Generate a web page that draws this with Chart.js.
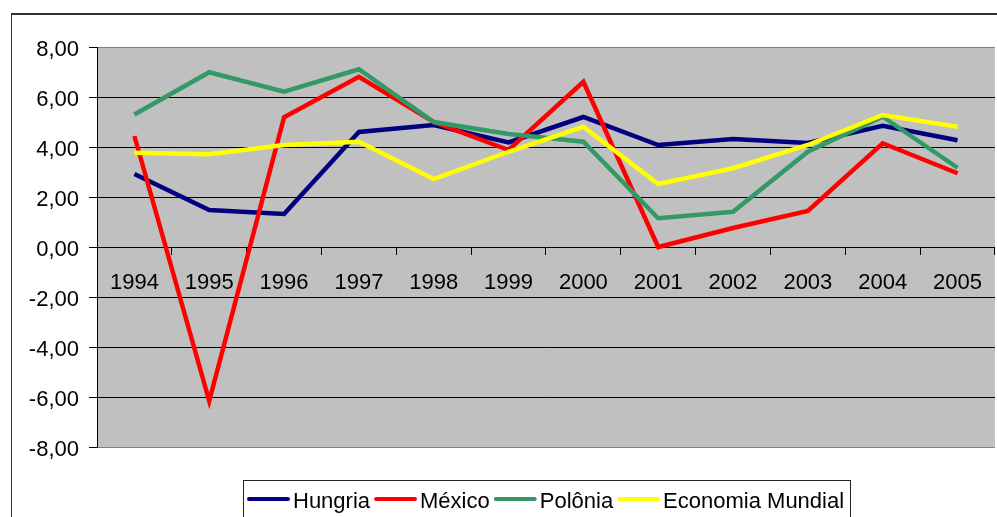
<!DOCTYPE html>
<html>
<head>
<meta charset="utf-8">
<script src="https://cdn.jsdelivr.net/npm/chart.js@4.4.1/dist/chart.umd.min.js"></script>
<style>
  html, body { margin: 0; padding: 0; background: #fff; overflow: hidden; }
  #wrap { position: relative; width: 997px; height: 517px; }
</style>
</head>
<body>
<div id="wrap"><canvas id="chart"></canvas></div>
<script>
// Values
const years = ['1994', '1995', '1996', '1997', '1998', '1999', '2000', '2001', '2002', '2003', '2004', '2005'];
const hungria = [2.92, 1.48, 1.32, 4.60, 4.88, 4.18, 5.20, 4.08, 4.32, 4.16, 4.85, 4.27];
const mexico = [4.44, -6.16, 5.19, 6.81, 5.00, 3.88, 6.61, 0.00, 0.76, 1.44, 4.15, 2.95];
const polonia = [5.30, 6.99, 6.21, 7.11, 5.00, 4.52, 4.21, 1.15, 1.41, 3.81, 5.21, 3.17];
const economiaMundial = [3.77, 3.71, 4.08, 4.21, 2.72, 3.81, 4.81, 2.52, 3.15, 4.08, 5.28, 4.81];
const yTicks = [-8, -6, -4, -2, 0, 2, 4, 6, 8];

const FONT = { family: '"Liberation Sans", Arial, sans-serif', size: 22 };

const seriesDefs = [
    { label: 'Hungria', data: hungria, color: '#000080', order: 4 },
    { label: 'México', data: mexico, color: '#ff0000', order: 3 },
    { label: 'Polônia', data: polonia, color: '#339966', order: 2 },
    { label: 'Economia Mundial', data: economiaMundial, color: '#ffff00', order: 1 }
];

// Grey plot area + outer frame
const backdrop = {
    id: 'backdrop',
    beforeDraw(chart) {
        const { ctx, chartArea: a } = chart;
        ctx.save();
        ctx.fillStyle = '#c0c0c0';
        ctx.fillRect(a.left, a.top, a.right - a.left, a.bottom - a.top);
        ctx.strokeStyle = '#333';
        ctx.lineWidth = 2;
        ctx.beginPath();
        ctx.moveTo(11, 14); ctx.lineTo(chart.width, 14);
        ctx.stroke();
        ctx.lineWidth = 1;
        ctx.beginPath();
        ctx.moveTo(11.5, 14); ctx.lineTo(11.5, chart.height);
        ctx.stroke();
        ctx.restore();
    }
};

// Legend in a box at the bottom, like the spreadsheet one
const boxLegend = {
    id: 'boxLegend',
    afterDraw(chart) {
        const { ctx } = chart;
        ctx.save();
        ctx.strokeStyle = '#222';
        ctx.lineWidth = 1;
        ctx.strokeRect(243.5, 480.5, 607, 60);
        ctx.font = `${FONT.size}px ${FONT.family}`;
        ctx.textBaseline = 'alphabetic';
        ctx.fillStyle = '#000';
        let x = 249;
        chart.data.datasets.forEach(ds => {
            ctx.strokeStyle = ds.borderColor;
            ctx.lineWidth = 4;
            ctx.lineCap = 'round';
            ctx.beginPath();
            ctx.moveTo(x, 499); ctx.lineTo(x + 39, 499);
            ctx.stroke();
            ctx.fillText(ds.label, x + 44, 508);
            x += 44 + ctx.measureText(ds.label).width + 6;
        });
        ctx.restore();
    }
};

new Chart(document.getElementById('chart'), {
    type: 'line',
    data: {
        labels: years,
        datasets: seriesDefs.map(s => ({
            label: s.label,
            data: s.data,
            borderColor: s.color,
            backgroundColor: s.color,
            borderWidth: 4.5,
            pointRadius: 0,
            tension: 0,
            order: s.order
        }))
    },
    options: {
        responsive: true,
        maintainAspectRatio: false,
        animation: false,
        layout: { padding: { left: 0, top: 47, right: 0, bottom: 70 } },
        plugins: {
            legend: { display: false },
            tooltip: { enabled: false }
        },
        scales: {
            x: {
                type: 'category',
                offset: true,
                position: { y: 0 },
                grid: { offset: true, drawOnChartArea: false, tickLength: 8, color: '#000', tickColor: '#000' },
                border: { display: false },
                ticks: { font: FONT, color: '#000', padding: 15, maxRotation: 0, autoSkip: false }
            },
            y: {
                min: -8,
                max: 8,
                afterBuildTicks: scale => { scale.ticks = yTicks.map(v => ({ value: v })); },
                afterFit: scale => { scale.width = 97; },
                grid: {
                    color: c => (c.tick && Math.abs(c.tick.value) === 8) ? '#808080' : '#000',
                    tickColor: '#000',
                    tickLength: 8,
                    lineWidth: 1
                },
                border: { color: '#000', width: 1 },
                ticks: {
                    font: FONT,
                    color: '#000',
                    padding: 10,
                    labelOffset: 3,
                    callback: v => v.toFixed(2).replace('.', ',')
                }
            }
        }
    },
    plugins: [backdrop, boxLegend]
});
</script>
</body>
</html>
